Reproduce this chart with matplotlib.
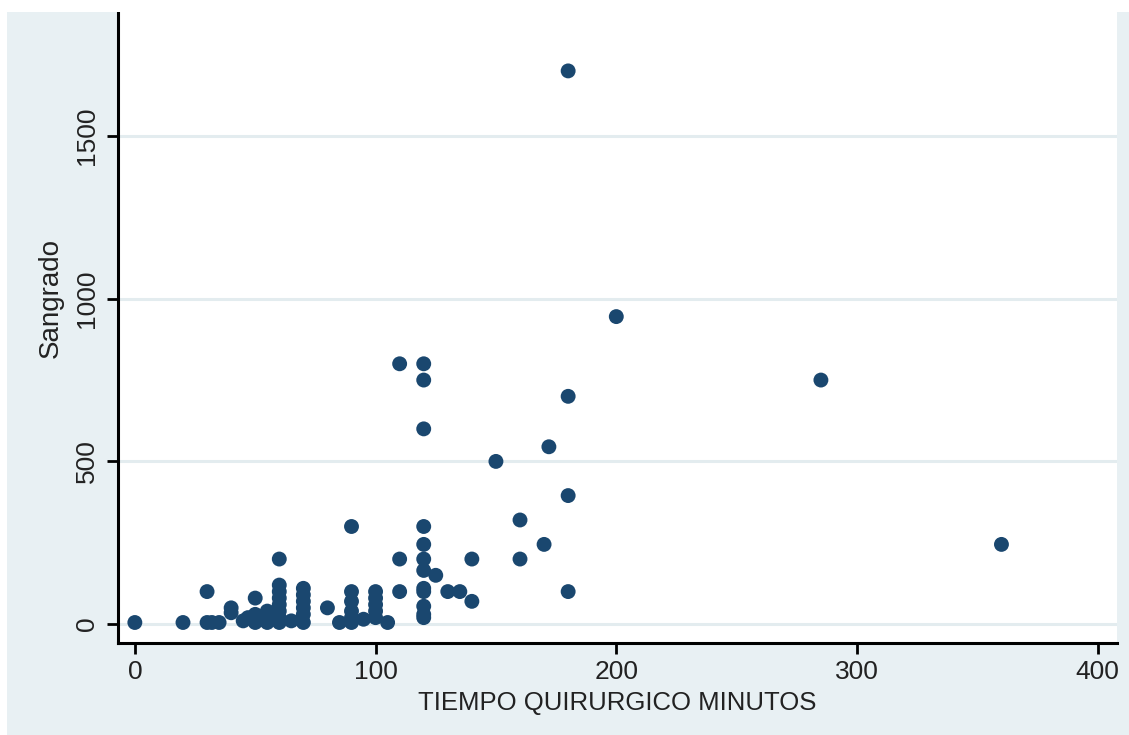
import matplotlib
matplotlib.use("Agg")
import matplotlib.pyplot as plt
from matplotlib.patches import Rectangle

# datos (tiempo quirurgico en minutos, sangrado en ml)
tiempo = [0, 20, 30, 30, 32, 35, 40, 40,
          45, 47, 50, 50, 50, 52, 55, 55,
          60, 60, 60, 60, 60, 60, 60, 60, 65,
          70, 70, 70, 70, 70, 70, 80, 85,
          90, 90, 90, 90, 90, 90, 95,
          100, 100, 100, 100, 100, 105,
          110, 110, 110,
          120, 120, 120, 120, 120, 120, 120, 120, 120, 120, 120, 120,
          125, 130, 135, 140, 140, 150, 160, 160, 170, 172,
          180, 180, 180, 180, 200, 285, 360]
sangrado = [5, 5, 100, 5, 5, 5, 50, 35,
            10, 20, 5, 80, 30, 15, 40, 5,
            200, 120, 100, 80, 60, 40, 20, 5, 10,
            110, 90, 70, 50, 30, 5, 50, 5,
            300, 100, 70, 40, 20, 5, 15,
            100, 80, 60, 40, 20, 5,
            800, 200, 100,
            800, 750, 600, 300, 245, 200, 165, 110, 100, 55, 30, 20,
            150, 100, 100, 200, 70, 500, 320, 200, 245, 545,
            1700, 700, 395, 100, 945, 750, 245]

xticks = [0, 100, 200, 300, 400]
yticks = [0, 500, 1000, 1500]

bg = '#e8f0f3'
navy = '#1a476f'
grid_c = '#e3ecef'
txt_c = '#222222'

plt.rcParams['font.family'] = ['Liberation Sans', 'DejaVu Sans']

W, H = 1129, 735
fig = plt.figure(figsize=(W / 100, H / 100), dpi=100, facecolor=bg)
# bordes blancos del recorte
fig.patches.append(Rectangle((0, 1 - 12 / H), 1, 12 / H, transform=fig.transFigure,
                             facecolor='white', edgecolor='none', zorder=0))
fig.patches.append(Rectangle((0, 0), 7 / W, 1, transform=fig.transFigure,
                             facecolor='white', edgecolor='none', zorder=0))

ax = fig.add_axes([118 / W, (H - 643) / H, (1117 - 118) / W, (643 - 12) / H])
ax.set_facecolor('white')

ax.scatter(tiempo, sangrado, s=115, color=navy, edgecolors='none', zorder=3)

ax.set_xlim(-7, 408)
ax.set_ylim(-58, 1881)
ax.set_xticks(xticks)
ax.set_yticks(yticks)
ax.yaxis.grid(True, color=grid_c, linewidth=2.2)
ax.set_axisbelow(True)

for s in ['top', 'right']:
    ax.spines[s].set_visible(False)
for s in ['left', 'bottom']:
    ax.spines[s].set_linewidth(2.2)
    ax.spines[s].set_color('black')

ax.tick_params(axis='both', length=8, width=2, color='black',
               labelsize=19, labelcolor=txt_c)
ax.tick_params(axis='x', pad=4)
ax.tick_params(axis='y', pad=6)
for lab in ax.get_yticklabels():
    lab.set_rotation(90)
    lab.set_va('center')

ax.set_xlabel('TIEMPO QUIRURGICO MINUTOS', fontsize=18.5, color=txt_c)
ax.set_ylabel('Sangrado', fontsize=20, color=txt_c)
ax.xaxis.set_label_coords(0.4995, (643 - 703) / 631)
ax.xaxis.label.set_va('center')
ax.yaxis.set_label_coords((51 - 118) / 999, (643 - 298) / 631)
ax.yaxis.label.set_va('center')
ax.yaxis.label.set_ha('center')

fig.savefig('out.png', dpi=100, facecolor=bg)
